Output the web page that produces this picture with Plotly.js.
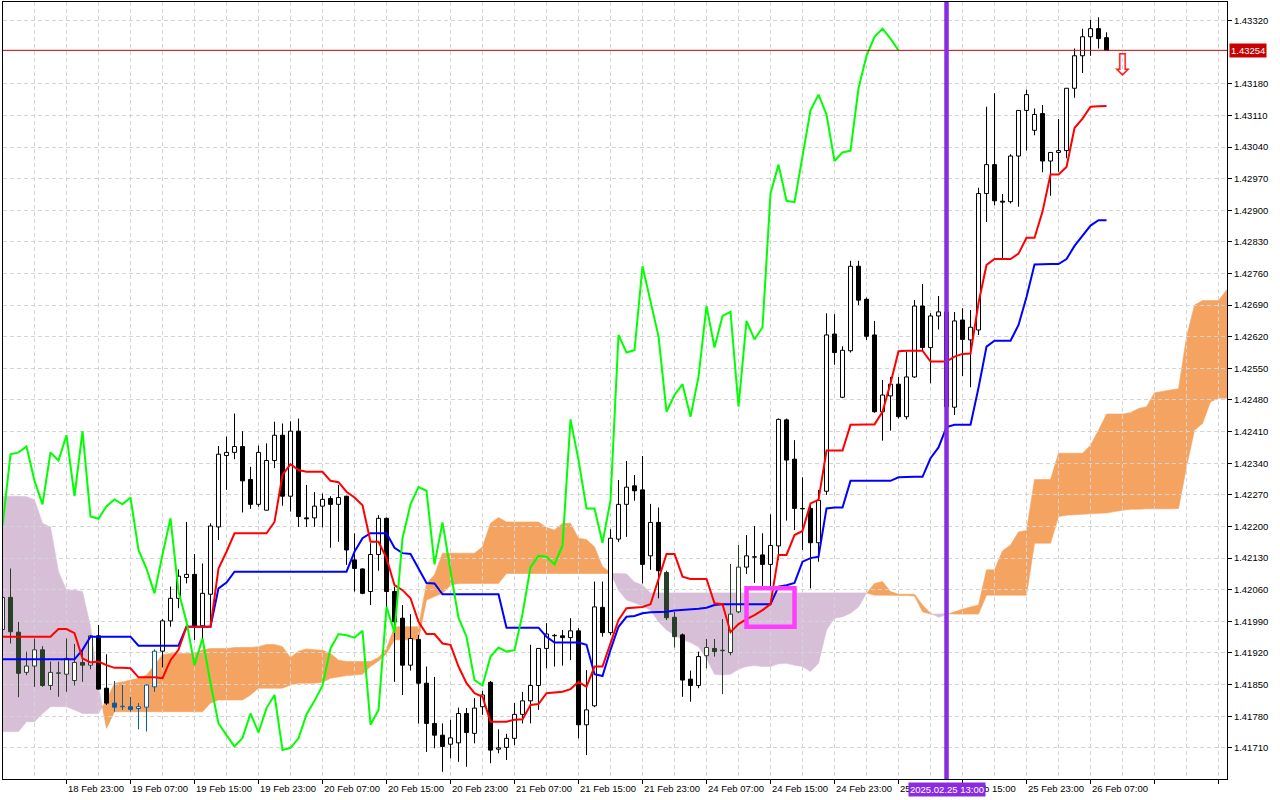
<!DOCTYPE html>
<html>
<head>
<meta charset="utf-8">
<script src="https://cdn.plot.ly/plotly-3.0.1.min.js"></script>
<style>html,body{margin:0;padding:0;background:#fff;}#chart{width:1280px;height:800px;}</style>
</head>
<body>
<div id="chart"></div>
<script>
// ---------- DATA (H1 candles) ----------
const tickIdx = [0,8,16,24,32,40,48,56,64,72,80,88,96,104,112,120,128,136];
// "25 Feb 07:00" and "25 Feb 15:00" are mostly hidden by the cursor date box; only their visible parts are drawn
const tickText = ["18 Feb 2025","18 Feb 23:00","19 Feb 07:00","19 Feb 15:00","19 Feb 23:00","20 Feb 07:00","20 Feb 15:00","20 Feb 23:00","21 Feb 07:00","21 Feb 15:00","21 Feb 23:00","24 Feb 07:00","24 Feb 15:00","24 Feb 23:00","25","b 15:00","25 Feb 23:00","26 Feb 07:00"];
const tickRightAlign = [false,false,false,false,false,false,false,false,false,false,false,false,false,false,false,true,false,false];
const yTicks = [1.41710,1.41780,1.41850,1.41920,1.41990,1.42060,1.42130,1.42200,1.42270,1.42340,1.42410,1.42480,1.42550,1.42620,1.42690,1.42760,1.42830,1.42900,1.42970,1.43040,1.43110,1.43180,1.43320];

const open = [1.41972,1.42043,1.41966,1.41877,1.41891,1.41927,1.41848,1.41875,1.41873,1.41859,
1.41899,1.41893,1.41958,1.41842,1.41809,1.41801,1.41801,1.41797,1.41800,1.41845,
1.41924,1.41991,1.42041,1.42087,1.42094,1.41980,1.42050,1.42199,1.42357,1.42364,
1.42377,1.42304,1.42249,1.42236,1.42346,1.42402,1.42267,1.42411,1.42219,1.42219,
1.42245,1.42262,1.42249,1.42267,1.42126,1.42106,1.42056,1.42138,1.42218,1.42056,
1.41997,1.41893,1.41950,1.41853,1.41764,1.41738,1.41718,1.41721,1.41786,1.41742,
1.41801,1.41855,1.41707,1.41711,1.41731,1.41784,1.41814,1.41848,1.41930,1.41958,
1.41958,1.41954,1.41969,1.41761,1.41803,1.42021,1.41965,1.42172,1.42249,1.42290,
1.42281,1.42135,1.42209,1.42098,1.41999,1.41960,1.41862,1.41848,1.41914,1.41930,
1.41925,1.41921,1.42011,1.42110,1.42132,1.42137,1.42116,1.42157,1.42436,1.42349,
1.42239,1.42240,1.42164,1.42278,1.42626,1.42486,1.42589,1.42776,1.42703,1.42624,
1.42454,1.42489,1.42515,1.42443,1.42531,1.42688,1.42596,1.42666,1.42675,1.42464,
1.42657,1.42613,1.42635,1.42937,1.43001,1.42920,1.42919,1.43020,1.43121,1.43077,
1.43114,1.43009,1.43028,1.43032,1.43170,1.43242,1.43284,1.43302,1.43282];
const high = [1.42052,1.42107,1.41989,1.41923,1.41952,1.41935,1.41901,1.41901,1.41952,1.41940,
1.41927,1.41960,1.41982,1.41917,1.41858,1.41849,1.41823,1.41809,1.41850,1.41928,
1.41995,1.42067,1.42105,1.42210,1.42139,1.42118,1.42207,1.42378,1.42399,1.42450,
1.42411,1.42332,1.42379,1.42384,1.42432,1.42428,1.42433,1.42439,1.42292,1.42276,
1.42273,1.42267,1.42292,1.42268,1.42185,1.42107,1.42163,1.42225,1.42220,1.42067,
1.42026,1.42006,1.41960,1.41890,1.41867,1.41764,1.41772,1.41799,1.41798,1.41820,
1.41836,1.41858,1.41751,1.41741,1.41809,1.41834,1.41938,1.41930,1.41986,1.41962,
1.41971,1.41997,1.41975,1.41882,1.42078,1.42078,1.42194,1.42303,1.42345,1.42314,
1.42356,1.42250,1.42242,1.42102,1.42011,1.41963,1.41881,1.41923,1.41951,1.41951,
1.41995,1.42117,1.42159,1.42181,1.42201,1.42185,1.42227,1.42439,1.42439,1.42391,
1.42309,1.42251,1.42281,1.42672,1.42670,1.42599,1.42788,1.42788,1.42707,1.42655,
1.42524,1.42531,1.42531,1.42587,1.42701,1.42737,1.42672,1.42710,1.42701,1.42675,
1.42683,1.42679,1.42950,1.43129,1.43159,1.42936,1.43024,1.43121,1.43167,1.43125,
1.43133,1.43028,1.43102,1.43170,1.43258,1.43302,1.43321,1.43327,1.43294];
const low = [1.41963,1.41941,1.41822,1.41871,1.41845,1.41845,1.41838,1.41823,1.41834,1.41848,
1.41856,1.41884,1.41839,1.41805,1.41790,1.41794,1.41790,1.41751,1.41746,1.41834,
1.41888,1.41978,1.42019,1.42074,1.41949,1.41949,1.41989,1.42170,1.42281,1.42349,
1.42231,1.42239,1.42244,1.42236,1.42329,1.42246,1.42233,1.42199,1.42199,1.42199,
1.42198,1.42153,1.42166,1.42115,1.42056,1.42050,1.42026,1.42102,1.42022,1.41856,
1.41827,1.41881,1.41764,1.41701,1.41709,1.41657,1.41687,1.41679,1.41668,1.41720,
1.41783,1.41676,1.41698,1.41683,1.41716,1.41764,1.41764,1.41794,1.41886,1.41890,
1.41892,1.41904,1.41731,1.41694,1.41800,1.41956,1.41960,1.42166,1.42177,1.42257,
1.42074,1.42104,1.42041,1.41993,1.41932,1.41823,1.41812,1.41842,1.41886,1.41912,
1.41829,1.41915,1.42008,1.42095,1.42075,1.42067,1.42067,1.42126,1.42213,1.42192,
1.42148,1.42063,1.42122,1.42270,1.42558,1.42484,1.42585,1.42690,1.42613,1.42452,
1.42390,1.42412,1.42439,1.42437,1.42529,1.42590,1.42517,1.42636,1.42458,1.42447,
1.42533,1.42508,1.42624,1.42874,1.42911,1.42793,1.42915,1.42908,1.43032,1.43066,
1.42984,1.42932,1.42985,1.43015,1.43149,1.43204,1.43242,1.43258,1.43254];
const close = [1.42043,1.41967,1.41875,1.41891,1.41927,1.41848,1.41877,1.41876,1.41908,1.41899,
1.41893,1.41958,1.41840,1.41809,1.41800,1.41802,1.41795,1.41801,1.41849,1.41924,
1.41991,1.42041,1.42090,1.42094,1.41980,1.42052,1.42201,1.42360,1.42364,1.42377,
1.42301,1.42249,1.42364,1.42346,1.42402,1.42267,1.42411,1.42222,1.42217,1.42245,
1.42260,1.42249,1.42264,1.42148,1.42107,1.42052,1.42138,1.42218,1.42056,1.41989,
1.41893,1.41952,1.41853,1.41764,1.41738,1.41713,1.41732,1.41786,1.41744,1.41798,
1.41827,1.41705,1.41710,1.41731,1.41784,1.41814,1.41848,1.41930,1.41962,1.41959,
1.41954,1.41969,1.41761,1.41794,1.42022,1.41965,1.42174,1.42249,1.42287,1.42279,
1.42116,1.42209,1.42102,1.41998,1.41956,1.41860,1.41848,1.41912,1.41932,1.41923,
1.41926,1.42006,1.42110,1.42135,1.42133,1.42116,1.42158,1.42437,1.42347,1.42240,
1.42240,1.42164,1.42258,1.42624,1.42585,1.42590,1.42776,1.42701,1.42621,1.42454,
1.42491,1.42515,1.42443,1.42531,1.42688,1.42596,1.42666,1.42675,1.42465,1.42655,
1.42614,1.42641,1.42937,1.43001,1.42921,1.42918,1.43020,1.43121,1.43156,1.43112,
1.43009,1.43028,1.43032,1.43170,1.43242,1.43284,1.43302,1.43280,1.43254];

const tenkan = [1.41956,1.41956,1.41956,1.41956,1.41956,1.41956,1.41956,1.41973,1.41973,1.41964,
1.41908,1.41899,1.41901,1.41893,1.41887,1.41887,1.41886,1.41866,1.41866,1.41866,
1.41864,1.41904,1.41927,1.41978,1.41978,1.41978,1.41978,1.42107,1.42144,1.42185,
1.42185,1.42185,1.42185,1.42185,1.42210,1.42314,1.42338,1.42325,1.42321,1.42321,
1.42321,1.42301,1.42298,1.42277,1.42264,1.42247,1.42166,1.42166,1.42130,1.42070,
1.42059,1.42041,1.41989,1.41962,1.41962,1.41941,1.41938,1.41890,1.41853,1.41831,
1.41823,1.41768,1.41768,1.41768,1.41772,1.41773,1.41805,1.41807,1.41831,1.41832,
1.41834,1.41840,1.41856,1.41845,1.41890,1.41890,1.41941,1.41993,1.42019,1.42021,
1.42022,1.42028,1.42081,1.42139,1.42139,1.42089,1.42084,1.42084,1.42084,1.42030,
1.42028,1.41966,1.41984,1.41995,1.42004,1.42015,1.42028,1.42137,1.42137,1.42181,
1.42190,1.42251,1.42259,1.42368,1.42368,1.42368,1.42425,1.42426,1.42426,1.42426,
1.42454,1.42517,1.42588,1.42589,1.42589,1.42589,1.42565,1.42565,1.42565,1.42576,
1.42582,1.42583,1.42695,1.42779,1.42792,1.42792,1.42792,1.42804,1.42839,1.42839,
1.42897,1.42979,1.42979,1.42996,1.43082,1.43103,1.43129,1.43130,1.43131];
const kijun = [1.41906,1.41906,1.41906,1.41906,1.41906,1.41906,1.41906,1.41906,1.41906,1.41906,
1.41927,1.41956,1.41956,1.41956,1.41956,1.41956,1.41956,1.41936,1.41936,1.41936,
1.41936,1.41936,1.41936,1.41978,1.41978,1.41978,1.41978,1.42063,1.42076,1.42100,
1.42100,1.42100,1.42100,1.42100,1.42100,1.42100,1.42100,1.42100,1.42100,1.42100,
1.42100,1.42100,1.42100,1.42100,1.42144,1.42174,1.42185,1.42185,1.42185,1.42153,
1.42141,1.42139,1.42107,1.42075,1.42074,1.42050,1.42050,1.42050,1.42050,1.42050,
1.42050,1.42050,1.42050,1.41976,1.41976,1.41976,1.41976,1.41976,1.41956,1.41943,
1.41943,1.41943,1.41943,1.41938,1.41873,1.41869,1.41927,1.41978,1.42000,1.42002,
1.42008,1.42010,1.42011,1.42011,1.42014,1.42015,1.42017,1.42018,1.42020,1.42026,
1.42028,1.42028,1.42028,1.42028,1.42028,1.42028,1.42028,1.42067,1.42070,1.42075,
1.42122,1.42130,1.42133,1.42240,1.42242,1.42242,1.42301,1.42301,1.42301,1.42301,
1.42301,1.42301,1.42309,1.42310,1.42310,1.42310,1.42351,1.42375,1.42420,1.42425,
1.42425,1.42425,1.42507,1.42598,1.42611,1.42611,1.42611,1.42646,1.42708,1.42780,
1.42781,1.42781,1.42781,1.42792,1.42821,1.42843,1.42866,1.42878,1.42878];
// Senkou span A / B (already shifted 26 bars forward), bars 0..154
const spanA = [1.41746,1.41746,1.41746,1.41768,1.41768,1.41786,1.41801,1.41801,1.41801,1.41794,
1.41786,1.41786,1.41786,1.41816,1.41853,1.41856,1.41860,1.41864,1.41871,1.41893,
1.41916,1.41919,1.41919,1.41919,1.41919,1.41927,1.41930,1.41930,1.41930,1.41932,
1.41932,1.41932,1.41934,1.41939,1.41939,1.41934,1.41910,1.41924,1.41929,1.41927,
1.41926,1.41919,1.41904,1.41901,1.41901,1.41901,1.41901,1.41910,1.41930,1.41978,
1.41978,1.41978,1.41978,1.42074,1.42093,1.42141,1.42141,1.42141,1.42141,1.42141,
1.42155,1.42207,1.42220,1.42210,1.42210,1.42210,1.42210,1.42210,1.42198,1.42192,
1.42207,1.42207,1.42174,1.42171,1.42155,1.42111,1.42098,1.42059,1.42037,1.42031,
1.42024,1.42015,1.41989,1.41971,1.41960,1.41949,1.41943,1.41934,1.41908,1.41873,
1.41871,1.41873,1.41884,1.41890,1.41892,1.41890,1.41890,1.41896,1.41897,1.41893,
1.41890,1.41879,1.41897,1.41971,1.41997,1.42000,1.42008,1.42022,1.42052,1.42074,
1.42078,1.42056,1.42050,1.42050,1.42050,1.42026,1.42008,1.41999,1.42005,1.42011,
1.42017,1.42022,1.42026,1.42104,1.42104,1.42146,1.42159,1.42188,1.42191,1.42304,
1.42304,1.42304,1.42362,1.42362,1.42362,1.42362,1.42380,1.42413,1.42449,1.42449,
1.42449,1.42452,1.42461,1.42465,1.42496,1.42499,1.42502,1.42505,1.42620,1.42690,
1.42700,1.42700,1.42700,1.42723,1.42730];
const spanB = [1.42267,1.42267,1.42267,1.42266,1.42259,1.42207,1.42199,1.42100,1.42059,1.42059,
1.42056,1.41978,1.41845,1.41753,1.41790,1.41790,1.41790,1.41790,1.41790,1.41790,
1.41790,1.41790,1.41790,1.41790,1.41790,1.41790,1.41809,1.41816,1.41816,1.41816,
1.41816,1.41827,1.41842,1.41842,1.41842,1.41842,1.41849,1.41853,1.41853,1.41853,
1.41855,1.41864,1.41867,1.41870,1.41871,1.41873,1.41890,1.41902,1.41919,1.41949,
1.41949,1.41949,1.41949,1.42037,1.42045,1.42052,1.42070,1.42074,1.42074,1.42074,
1.42074,1.42074,1.42074,1.42096,1.42096,1.42096,1.42096,1.42096,1.42096,1.42096,
1.42096,1.42096,1.42096,1.42096,1.42096,1.42096,1.42096,1.42096,1.42095,1.42077,
1.42070,1.42053,1.42053,1.42053,1.42053,1.42053,1.42053,1.42053,1.42053,1.42053,
1.42053,1.42053,1.42053,1.42053,1.42053,1.42053,1.42053,1.42053,1.42053,1.42053,
1.42053,1.42053,1.42053,1.42053,1.42053,1.42053,1.42053,1.42053,1.42053,1.42048,
1.42048,1.42048,1.42047,1.42047,1.42046,1.42011,1.42006,1.42006,1.42007,1.42006,
1.42006,1.42006,1.42006,1.42048,1.42048,1.42048,1.42048,1.42048,1.42048,1.42163,
1.42163,1.42163,1.42222,1.42225,1.42226,1.42227,1.42228,1.42229,1.42230,1.42233,
1.42236,1.42238,1.42238,1.42239,1.42239,1.42239,1.42239,1.42240,1.42332,1.42413,
1.42428,1.42476,1.42484,1.42484,1.42484];

const bidPrice = 1.43254;
const markerBar = 118;               // vertical line: 2025.02.25 13:00
const markerLabel = "2025.02.25 13:00";
const boxBars = [93, 99];            // magenta rectangle
const boxPrices = [1.41978, 1.42063];
const signalBar = [140];
const signalPrice = [1.43222];

// ---------- BUILD ----------
const ORANGE = '#F4A460', THISTLE = '#D8BFD8';
const INV_OR = '#0B5B9F', INV_TH = '#274027';
const n = close.length;
const idx = close.map((_, i) => i);

// cloud polygons (split where span A crosses span B) -> path shapes under the candles
function cloudShapes() {
  const shapes = [];
  let seg = null;
  const flush = () => {
    if (!seg || seg.x.length < 2) return;
    let p = '';
    for (let k = 0; k < seg.x.length; k++) p += (k ? 'L' : 'M') + seg.x[k] + ',' + seg.a[k];
    for (let k = seg.x.length - 1; k >= 0; k--) p += 'L' + seg.x[k] + ',' + seg.b[k];
    p += 'Z';
    const col = seg.type === 'o' ? ORANGE : THISTLE;
    shapes.push({type: 'path', xref: 'x', yref: 'y', path: p, fillcolor: col,
                 line: {width: 0.6, color: col}, layer: 'below'});
  };
  for (let i = 0; i < spanA.length; i++) {
    const d = spanA[i] - spanB[i];
    const type = d >= 0 ? 'o' : 't';
    if (!seg) { seg = {type, x: [i], a: [spanA[i]], b: [spanB[i]]}; continue; }
    if (type !== seg.type) {
      const d0 = spanA[i-1] - spanB[i-1];
      const t = d0 / (d0 - d);
      const xc = i - 1 + t, yc = spanA[i-1] + t * (spanA[i] - spanA[i-1]);
      seg.x.push(xc); seg.a.push(yc); seg.b.push(yc);
      flush();
      seg = {type, x: [xc], a: [yc], b: [yc]};
    }
    seg.x.push(i); seg.a.push(spanA[i]); seg.b.push(spanB[i]);
  }
  flush();
  return shapes;
}

// candle colours (inverted inside the cloud, as the terminal draws it)
const bodyFill = [], edgeCol = [], bodyBase = [], bodyH = [], wickBase = [], wickH = [];
for (let i = 0; i < n; i++) {
  const lo = Math.min(open[i], close[i]), hi = Math.max(open[i], close[i]);
  const top = Math.max(spanA[i], spanB[i]), bot = Math.min(spanA[i], spanB[i]);
  let frac;
  if (hi - lo > 1e-6) frac = Math.max(0, Math.min(hi, top) - Math.max(lo, bot)) / (hi - lo);
  else frac = (lo >= bot && lo <= top) ? 1 : 0;
  const inv = spanA[i] >= spanB[i] ? INV_OR : INV_TH;
  const e = frac > 0.3 ? inv : '#000000';
  edgeCol.push(e);
  bodyFill.push(close[i] >= open[i] ? '#ffffff' : e);
  bodyBase.push(lo); bodyH.push(Math.max(hi - lo, 0.000004));
  wickBase.push(low[i]); wickH.push(high[i] - low[i]);
}

const chikouX = [], chikouY = [];
for (let i = 26; i < n; i++) { chikouX.push(i - 26); chikouY.push(close[i]); }

const traces = [
  {type: 'bar', x: idx, y: wickH, base: wickBase, width: 0.13,
   marker: {color: edgeCol, line: {width: 0}}, hoverinfo: 'skip'},
  {type: 'bar', x: idx, y: bodyH, base: bodyBase, width: 0.5,
   marker: {color: bodyFill, line: {width: 1, color: edgeCol}}, hoverinfo: 'skip'},
  {type: 'scatter', mode: 'lines', x: idx, y: kijun, line: {color: '#0000FF', width: 2}, hoverinfo: 'skip'},
  {type: 'scatter', mode: 'lines', x: idx, y: tenkan, line: {color: '#FF0000', width: 2}, hoverinfo: 'skip'},
  {type: 'scatter', mode: 'lines', x: chikouX, y: chikouY, line: {color: '#00FF00', width: 2}, hoverinfo: 'skip'}
];

const FONT = 'Liberation Sans, Arial, sans-serif';
const annotations = tickIdx.map((b, k) => ({
  x: b, y: 0, xref: 'x', yref: 'paper', xanchor: tickRightAlign[k] ? 'right' : 'left', yanchor: 'top',
  text: tickText[k], showarrow: false, xshift: tickRightAlign[k] ? 55 : -1, yshift: -2,
  font: {family: FONT, size: 9.5, color: '#000'}
}));
annotations.push({
  x: markerBar, y: 0, xref: 'x', yref: 'paper', xanchor: 'center', yanchor: 'top',
  text: markerLabel, showarrow: false, yshift: -3, bgcolor: '#8A2BE2', borderpad: 1,
  font: {family: FONT, size: 9.5, color: '#fff'}
});
annotations.push({
  x: 1, y: bidPrice, xref: 'paper', yref: 'y', xanchor: 'left', yanchor: 'middle',
  text: bidPrice.toFixed(5), showarrow: false, xshift: 2, bgcolor: '#C80000', borderpad: 1,
  font: {family: FONT, size: 9.5, color: '#fff'}
});
signalBar.forEach((b, k) => annotations.push({
  x: b, y: signalPrice[k], xref: 'x', yref: 'y', text: '⇩', showarrow: false,
  font: {family: 'DejaVu Sans', size: 30, color: '#FF2020'}
}));

const layout = {
  width: 1280, height: 800,
  margin: {l: 3, r: 53, t: 2, b: 21},
  paper_bgcolor: '#ffffff', plot_bgcolor: '#ffffff',
  showlegend: false, barmode: 'overlay', hovermode: false,
  xaxis: {
    range: [0.0625, 153.06], tick0: 0, dtick: 8, ticks: 'outside', ticklen: 4, tickcolor: '#000',
    showticklabels: false, showgrid: true, gridcolor: '#d4d4d4', griddash: '4px,3px', gridwidth: 1,
    minor: {tick0: 0, dtick: 4, showgrid: true, gridcolor: '#d4d4d4', griddash: '4px,3px', ticks: ''},
    showline: true, linecolor: '#000', linewidth: 1, mirror: true, zeroline: false, fixedrange: true
  },
  yaxis: {
    side: 'right', range: [1.41641, 1.43361], tickvals: yTicks, tickformat: '.5f',
    ticks: 'outside', ticklen: 4, tickcolor: '#000',
    tickfont: {family: FONT, size: 9.5, color: '#000'},
    showgrid: true, gridcolor: '#d4d4d4', griddash: '4px,3px', gridwidth: 1,
    showline: true, linecolor: '#000', linewidth: 1, mirror: true, zeroline: false, fixedrange: true
  },
  shapes: cloudShapes().concat([
    {type: 'line', xref: 'paper', yref: 'y', x0: 0, x1: 1, y0: bidPrice, y1: bidPrice,
     line: {color: '#C80000', width: 1}},
    {type: 'line', xref: 'x', yref: 'paper', x0: markerBar, x1: markerBar, y0: 0, y1: 1,
     line: {color: '#8A2BE2', width: 4.5}},
    {type: 'rect', xref: 'x', yref: 'y', x0: boxBars[0], x1: boxBars[1], y0: boxPrices[0], y1: boxPrices[1],
     line: {color: '#FF3CFF', width: 4.5}, fillcolor: 'rgba(0,0,0,0)'}
  ]),
  annotations: annotations
};

Plotly.newPlot('chart', traces, layout, {staticPlot: true, displayModeBar: false});
</script>
</body>
</html>
